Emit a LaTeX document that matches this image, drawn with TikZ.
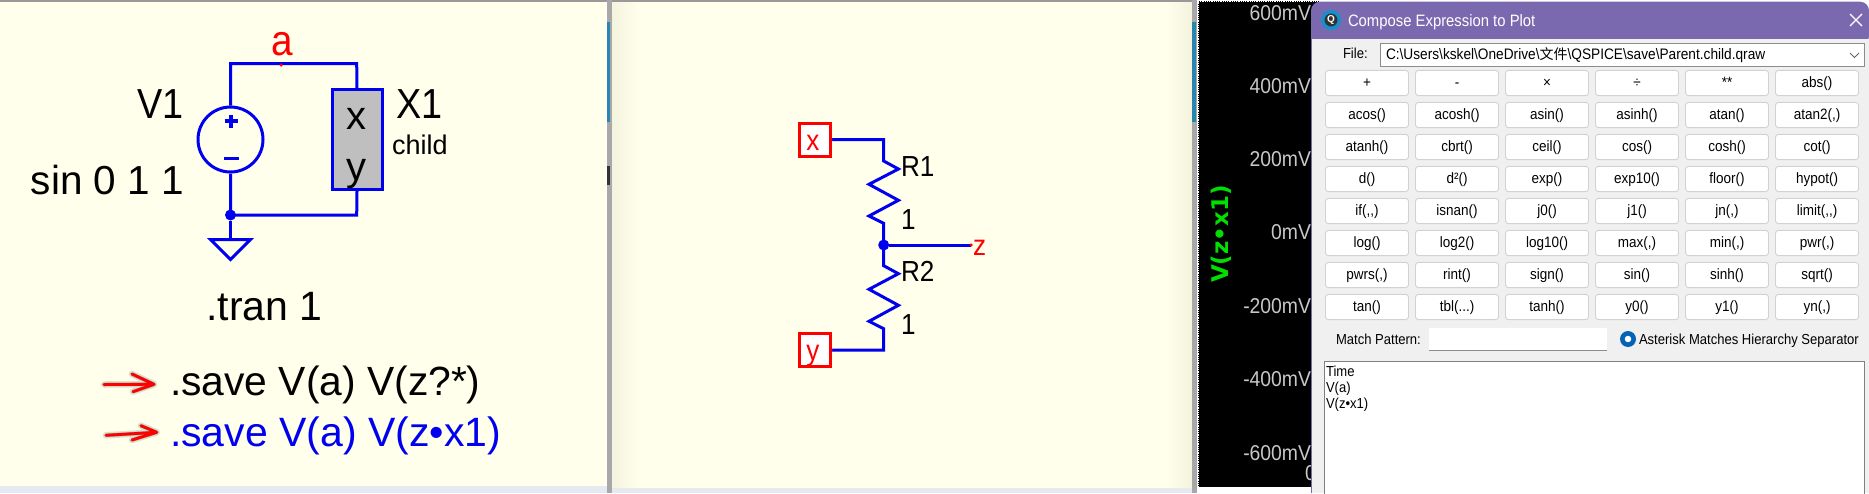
\documentclass[tikz,border=0pt]{standalone}
\usepackage{fontspec}
\usetikzlibrary{arrows.meta}
\setmainfont{Liberation Sans}
\newfontfamily\cjkf{Noto Sans CJK SC}
\newfontfamily\narf[FakeStretch=0.9]{Liberation Sans}
\newfontfamily\vbold[BoldFont={DejaVu Sans Bold}]{DejaVu Sans}
\newcommand{\fsz}[1]{\fontsize{#1}{#1}\selectfont}
\newcommand{\nsz}[1]{\narf\fontsize{#1}{#1}\selectfont}
\newcommand{\tripledot}{...}
\definecolor{ivory}{HTML}{FFFFEC}
\definecolor{ivoryshade}{HTML}{F3F3DE}
\definecolor{wireblue}{HTML}{0000F0}
\definecolor{titlepurple}{HTML}{7B69AF}
\definecolor{dlgbg}{HTML}{F0F0F0}
\definecolor{btnline}{HTML}{D2D2D2}
\definecolor{greenlab}{HTML}{00E000}
\definecolor{axisgray}{HTML}{C8C8C8}
\definecolor{stripgray}{HTML}{A8A8A8}
\definecolor{teal}{HTML}{2A86AE}
\definecolor{palestrip}{HTML}{E4E9F2}
\definecolor{iconblue}{HTML}{1490CF}
\definecolor{radioblue}{HTML}{0563B5}
\tikzset{
  txt/.style={inner sep=0pt,outer sep=0pt,font=\fsz{#1}},
  txt/.default=40,
  ntxt/.style={inner sep=0pt,outer sep=0pt,font=\nsz{#1}},
  wire/.style={draw=wireblue,line width=3pt,line join=miter},
  sym/.style={draw=wireblue,line width=3pt},
  junction/.style={circle,fill=wireblue,inner sep=0pt,minimum size=11pt},
  pin/.style={circle,fill=red,inner sep=0pt,minimum size=3.5pt},
  portbox/.style={draw=red,fill=white,line width=3pt,inner sep=0pt,minimum width=31pt,minimum height=33pt},
  redarrow/.style={draw=red,line width=2.8pt,line cap=round,line join=round},
  shadowa/.style={draw=black,opacity=.13,line width=6.5pt,line cap=round,line join=round},
  shadowb/.style={draw=black,opacity=.28,line width=3.5pt,line cap=round,line join=round},
  axislab/.style={ntxt=21.5,text=axisgray,anchor=base east},
  btn/.style={draw=btnline,fill=white,line width=.9pt,rounded corners=3pt,minimum width=83pt,minimum height=25.3pt,inner sep=0pt},
  btnlab/.style={ntxt=15,anchor=base},
  dlgtxt/.style={ntxt=14.5,anchor=base west}
}
\begin{document}
\begin{tikzpicture}[x=1pt,y=-1pt]
\useasboundingbox (0,0) rectangle (1869,493);
% ---- backgrounds
\fill[white] (0,0) rectangle (1869,493);
\fill[ivory] (0,0) rectangle (605.7,486);
\fill[ivory] (611.5,0) rectangle (1191.5,488);
\fill[left color=ivoryshade,right color=ivory] (611.5,0) rectangle (640,488);
\fill[left color=ivory,right color=ivoryshade] (1165,0) rectangle (1191.5,488);
\fill[black!40] (0,0) rectangle (1197,2.2);
\fill[stripgray] (606.8,0) rectangle (611.5,493);
\fill[stripgray] (1191.5,0) rectangle (1197,493);
\fill[teal] (607.3,22) rectangle (610.3,122);
\fill[teal] (1192,22) rectangle (1196,122);
\fill[black!80] (607.3,166) rectangle (609.8,185);
\fill[palestrip] (0,486) rectangle (606.8,493);
\fill[palestrip] (611.5,488) rectangle (1191.5,493);
% ---- parent schematic
\coordinate (tl) at (230.5,63.5);
\coordinate (tr) at (356.7,63.5);
\coordinate (bj) at (230.5,215);
\coordinate (br) at (356.7,215);
\node[circle,draw=wireblue,line width=3pt,inner sep=0pt,minimum size=65pt] (V1) at (230.5,139.5) {};
\node[draw=wireblue,fill=black!25,line width=3pt,inner sep=0pt,minimum width=50pt,minimum height=100pt] (X1) at (357,139.7) {};
\draw[wire] (V1.north) -- (tl) -- (tr) -- (X1.north);
\draw[wire] (V1.south) -- (bj) -- (br) -- (X1.south);
\node[junction] (jb) at (bj) {};
\coordinate (gt) at (230.5,239.5);
\draw[wire] (jb) -- (gt);
\draw[sym,line join=miter] (210.5,239.5) -- (250.5,239.5) -- (230.5,259.5) -- cycle;
\draw[draw=wireblue,line width=3.2pt] (224.5,121) -- (237.5,121) (231,114.5) -- (231,127.5);
\draw[draw=wireblue,line width=3.2pt] (223.5,158.5) -- (238.5,158.5);
\node[pin] (apin) at (281,65) {};
\node[ntxt=43,text=red,anchor=base] (alab) at (282,55) {a};
\node[ntxt=42,anchor=base east] (v1lab) at (184,118) {V1};
\node[txt=40.5,anchor=base east] (v1val) at (184,194) {sin 0 1 1};
\node[ntxt=42,anchor=base west] (x1lab) at (396,118) {X1};
\node[txt=27,anchor=base west] (x1val) at (392,154) {child};
\node[txt=40,anchor=base] (xp) at (356,129) {x};
\node[txt=40,anchor=base] (yp) at (356,180) {y};
\node[txt=41,anchor=base west] (tran) at (206.5,320) {.tran 1};
\node[txt=40.8,anchor=base west] (s1) at (170,395) {.save V(a) V(z?*)};
\node[txt=41,anchor=base west,text=wireblue] (s2) at (170,446) {.save V(a) V(z•x1)};
% red arrows
\coordinate (a1s) at (104,384.5); \coordinate (a1t) at (154,384.3);
\coordinate (a1u) at (132,374); \coordinate (a1l) at (133,391.7);
\coordinate (a2s) at (106,435.3); \coordinate (a2t) at (156.7,432.3);
\coordinate (a2u) at (141,425.7); \coordinate (a2l) at (132,440);
\foreach \st in {shadowa,shadowb} {
  \draw[\st,shift={(2,3)}] (a1s) -- (a1t) (a1u) -- (a1t) -- (a1l);
  \draw[\st,shift={(2,3)}] (a2s) -- (a2t) (a2u) -- (a2t) -- (a2l);
}
\draw[redarrow] (a1s) -- (a1t) (a1u) -- (a1t) -- (a1l);
\draw[redarrow] (a2s) -- (a2t) (a2u) -- (a2t) -- (a2l);
% ---- child schematic
\node[portbox] (px) at (815,140) {};
\node[portbox] (py) at (815,350) {};
\coordinate (xc) at (883.7,139.7);
\coordinate (yc) at (883.7,350);
\coordinate (zj) at (883.7,245);
\coordinate (zend) at (971,245);
\draw[wire] (831,139.7) -- (xc) -- (883.7,161) -- (898.4,169) -- (869,184.3) -- (898.4,200.3) -- (869,216) -- (883.7,223.3) -- (zj)
  -- (883.7,265.7) -- (898.4,273.7) -- (869,289.3) -- (898.4,305.3) -- (869,321.3) -- (883.7,328.7) -- (yc) -- (831,350);
\node[junction] (jz) at (zj) {};
\draw[wire] (jz) -- (zend);
\node[pin] (xpin) at (831,139.7) {};
\node[pin] (ypin) at (831,350) {};
\node[pin] (zpin) at (zend) {};
\node[ntxt=29,text=red,anchor=base] (xlab) at (813,150) {x};
\node[ntxt=29,text=red,anchor=base] (ylab) at (813,360) {y};
\node[ntxt=29,text=red,anchor=base west] (zlab) at (973,255.5) {z};
\node[ntxt=29,anchor=base west] (r1) at (901,176.7) {R1};
\node[ntxt=29,anchor=base west] (r1v) at (901,229) {1};
\node[ntxt=29,anchor=base west] (r2) at (901,281.7) {R2};
\node[ntxt=29,anchor=base west] (r2v) at (901,334) {1};
% ---- waveform pane
\fill[black] (1198,1) rectangle (1320,487);
\draw[white,densely dotted,line width=.8pt] (1198,1.5) -- (1320,1.5) (1198,1.5) -- (1198,487) -- (1320,487);
\node[axislab] (t600) at (1311,20.7) {600mV};
\node[axislab] (t400) at (1311,93.3) {400mV};
\node[axislab] (t200) at (1311,166) {200mV};
\node[axislab] (t0) at (1311,239) {0mV};
\node[axislab] (tm200) at (1311,313.3) {-200mV};
\node[axislab] (tm400) at (1311,386.7) {-400mV};
\node[axislab] (tm600) at (1311,460) {-600mV};
\node[axislab,anchor=base west] (t0b) at (1305,480) {0};
\node[inner sep=0pt,rotate=90,text=greenlab,font=\fsz{23}\vbold\bfseries] (vlab) at (1221,234) {V(z•x1)};
% ---- dialog
\fill[dlgbg] (1311,30) rectangle (1869,493);
\fill[titlepurple,rounded corners=9pt] (1311,45) -- (1311,1.7) -- (1869,1.7) -- (1869,45) -- cycle;
\fill[dlgbg] (1312,39) rectangle (1869,50);
\draw[titlepurple,line width=1pt] (1311.5,30) -- (1311.5,493);
\node[circle,fill=iconblue,inner sep=0pt,minimum size=20pt] (icon) at (1331,20) {};
\node[circle,fill=black!80,inner sep=0pt,minimum size=13pt] (iconb) at (1331,20) {};
\node[txt=10,text=white,font=\fsz{10}\bfseries] (iconq) at (1331,20) {Q};
\node[ntxt=16.5,anchor=base west,text=white] (title) at (1348,26) {Compose Expression to Plot};
\coordinate (cx) at (1856,20);
\draw[white,line width=1.2pt] ([shift={(-6,-6)}]cx) -- ([shift={(6,6)}]cx) ([shift={(-6,6)}]cx) -- ([shift={(6,-6)}]cx);
\node[dlgtxt] (filelab) at (1343,58) {File:};
\draw[draw=black!45,fill=white,line width=.8pt] (1380,43.7) rectangle (1864.6,66) ;
\node[ntxt=15.2,anchor=base west] (filepath) at (1386,59) {C:\textbackslash Users\textbackslash kskel\textbackslash OneDrive\textbackslash {\cjkf\fontsize{14}{14}\selectfont 文件}\textbackslash QSPICE\textbackslash save\textbackslash Parent.child.qraw};
\draw[black!60,line width=.8pt] (1850,53) -- (1854.5,57.5) -- (1859,53);
% buttons
\foreach \row/\labs in {0/{+,-,×,÷,**,abs()},
  1/{acos(),acosh(),asin(),asinh(),atan(),atan2({,})},
  2/{atanh(),cbrt(),ceil(),cos(),cosh(),cot()},
  3/{d(),d²(),exp(),exp10(),floor(),hypot()},
  4/{if({,,}),isnan(),j0(),j1(),jn({,}),limit({,,})},
  5/{log(),log2(),log10(),max({,}),min({,}),pwr({,})},
  6/{pwrs({,}),rint(),sign(),sin(),sinh(),sqrt()},
  7/{tan(),tbl(\tripledot),tanh(),y0(),y1(),yn({,})}}{
  \foreach \lab [count=\c from 0] in \labs {
    \node[btn] (b\row-\c) at ({1367+90*\c},{83+32*\row}) {};
    \node[btnlab] at ([yshift=-4.5pt]b\row-\c.center) {\lab};
  }
}
\node[dlgtxt] (mp) at (1336,344) {Match Pattern:};
\node[draw=none,fill=white,inner sep=0pt,minimum width=178pt,minimum height=22.6pt] (mpbox) at (1518,339) {};
\draw[black!45,line width=.9pt] (mpbox.south west) -- (mpbox.south east);
\node[circle,fill=radioblue,inner sep=0pt,minimum size=16pt] (radio) at (1628,339) {};
\node[circle,fill=white,inner sep=0pt,minimum size=6.5pt] (radioin) at (radio) {};
\node[dlgtxt] (ast) at (1639,344) {Asterisk Matches Hierarchy Separator};
\draw[draw=black!50,fill=white,line width=.9pt] (1324.3,361.7) rectangle (1864.6,497);
\node[dlgtxt] (l1) at (1326,376) {Time};
\node[dlgtxt] (l2) at (1326,392) {V(a)};
\node[dlgtxt] (l3) at (1326,408) {V(z•x1)};
\end{tikzpicture}
\end{document}
